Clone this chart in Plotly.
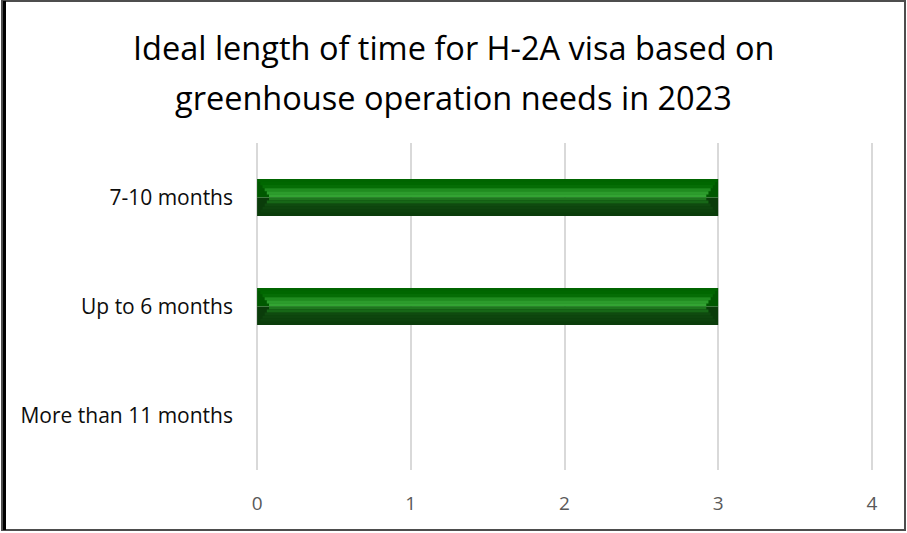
import plotly.graph_objects as go

# Survey responses: ideal H-2A visa length for greenhouse operations, 2023
categories = ["More than 11 months", "Up to 6 months", "7-10 months"]
responses = [0, 3, 3]
x_ticks = [0, 1, 2, 3, 4]

title_lines = ["Ideal length of time for H-2A visa based on",
               "greenhouse operation needs in 2023"]

W, H = 907, 533
m_l, m_r, m_t, m_b = 254, 32, 143, 63
pw = W - m_l - m_r
ph = H - m_t - m_b
x_min, x_max = -0.02, 4.02
px_per_unit = pw / (x_max - x_min)

bar_w = 0.34
fig = go.Figure()


def add_band(lo, hi, color, inset_px):
    """Horizontal strip of each bar between fractions lo..hi of its thickness,
    pulled in from both ends by inset_px to form the bevelled caps."""
    inset = inset_px / px_per_unit
    bases = [inset if v > 0 else 0 for v in responses]
    lengths = [max(v - 2 * inset, 0) for v in responses]
    fig.add_trace(go.Bar(
        y=categories, x=lengths, base=bases, orientation="h",
        width=bar_w * (hi - lo), offset=-bar_w / 2 + bar_w * lo,
        marker=dict(color=color, line=dict(width=0)),
        hoverinfo="skip", showlegend=False,
    ))


# end caps: darker upper and lower halves spanning the full bar
add_band(0.0, 0.5, "#0a3c0a", 0)
add_band(0.5, 1.0, "#005800", 0)

# face of the bar, top to bottom, inset more toward the middle of the bevel
face = ["#006400", "#006700", "#056d05", "#1f8c1f", "#2c9c2c", "#33a433",
        "#1d761d", "#176717", "#0f4a0f", "#0e450e", "#0d420d", "#0b3d0b"]
cap_px = 13
n = len(face)
for i, col in enumerate(face):
    hi = 1 - i / n
    lo = 1 - (i + 1) / n
    mid = (hi + lo) / 2
    dist = abs(mid - 0.5) / 0.5
    add_band(lo, hi + 0.002, col, cap_px * (1 - dist))

# hover target with the true values
fig.add_trace(go.Bar(
    y=categories, x=responses, orientation="h",
    width=bar_w, offset=-bar_w / 2,
    marker=dict(color="rgba(0,0,0,0)", line=dict(width=0)),
    hovertemplate="%{y}: %{x}<extra></extra>", showlegend=False,
))

fig.update_layout(
    width=W, height=H,
    margin=dict(l=m_l, r=m_r, t=m_t, b=m_b),
    paper_bgcolor="white", plot_bgcolor="white",
    barmode="overlay",
    font=dict(family="Open Sans, Noto Sans, sans-serif", color="#0d0d0d"),
    xaxis=dict(
        range=[x_min, x_max], tickvals=x_ticks, showgrid=True,
        gridcolor="#d9d9d9", gridwidth=1.5, zeroline=False,
        showline=False, ticks="", ticklabelstandoff=20,
        tickfont=dict(size=19, color="#595959"),
        fixedrange=True,
    ),
    yaxis=dict(
        categoryorder="array", categoryarray=categories,
        showgrid=False, zeroline=False, showline=False, ticks="",
        ticklabelstandoff=20,
        tickfont=dict(size=21, color="#0d0d0d"),
        fixedrange=True,
    ),
)

# two-line chart title
for text, yc in zip(title_lines, [48, 97]):
    fig.add_annotation(
        text=text, xref="paper", yref="paper",
        x=(W / 2 - m_l) / pw, y=1 + (m_t - yc) / ph,
        xanchor="center", yanchor="middle", showarrow=False,
        font=dict(size=32.5, color="#000000"),
    )

# chart frame around the whole figure
x0p, x1p = (2 - m_l) / pw, (W - 2 - m_l) / pw
y0p, y1p = -(m_b - 3) / ph, 1 + (m_t - 1) / ph
fig.add_shape(type="rect", xref="paper", yref="paper",
              x0=x0p, x1=x1p, y0=y0p, y1=y1p,
              line=dict(color="#4d4d4d", width=2), layer="above")
fig.add_shape(type="line", xref="paper", yref="paper",
              x0=(4.5 - m_l) / pw, x1=(4.5 - m_l) / pw, y0=y0p, y1=y1p,
              line=dict(color="#000000", width=3), layer="above")

fig.write_html("out.html", config={"displayModeBar": False})
